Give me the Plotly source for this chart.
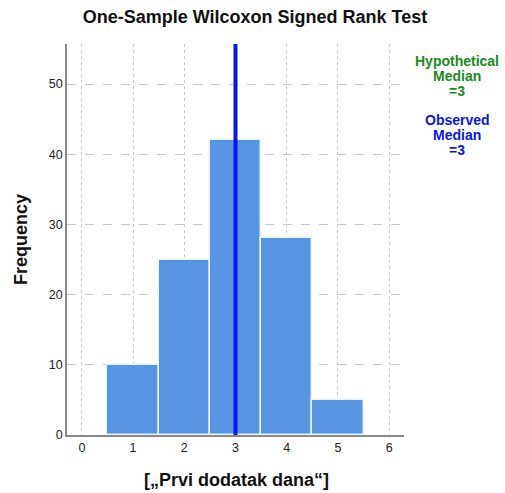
import plotly.graph_objects as go

categories = [1, 2, 3, 4, 5]
frequencies = [10, 25, 42, 28, 5]
hypothetical_median = 3
observed_median = 3
x_ticks = [0, 1, 2, 3, 4, 5, 6]
y_ticks = [0, 10, 20, 30, 40, 50]

W, H = 505, 493
L, R, T, B = 67, 101, 44, 58
PW, PH = W - L - R, H - T - B

def px_x(px):
    return (px - L) / PW

def px_y(py):
    return (H - B - py) / PH

fig = go.Figure()
fig.add_trace(go.Bar(
    x=categories, y=frequencies, width=1.0,
    marker=dict(color="#5795E3", line=dict(color="#EAF2FC", width=1.5)),
    showlegend=False, hoverinfo="x+y",
))
fig.add_trace(go.Scatter(
    x=[observed_median, observed_median], y=[0, 60], mode="lines",
    line=dict(color="#0A14F0", width=4), showlegend=False,
))

fig.update_layout(
    width=W, height=H,
    margin=dict(l=L, r=R, t=T, b=B, autoexpand=False),
    paper_bgcolor="white", plot_bgcolor="white",
    font=dict(family="Liberation Sans, Arial, sans-serif", color="#222"),
    title=dict(text="<b>One-Sample Wilcoxon Signed Rank Test</b>",
               x=255 / W, xref="container", y=1 - 17 / H, yref="container",
               xanchor="center", yanchor="middle",
               font=dict(size=18, color="#111")),
    bargap=0,
)
fig.update_xaxes(
    range=[-0.29, 6.29], tickvals=x_ticks, ticktext=[str(t) for t in x_ticks],
    showgrid=True, gridcolor="#C8C8C8", griddash="dot", gridwidth=1,
    showline=True, linecolor="#888", linewidth=1.5, zeroline=False,
    ticks="", tickfont=dict(size=12.5, color="#222"), automargin=False,
)
fig.update_yaxes(
    range=[0, 55.7], tickvals=y_ticks,
    showgrid=True, gridcolor="#C8C8C8", griddash="dash", gridwidth=1,
    showline=True, linecolor="#888", linewidth=1.5, zeroline=False,
    ticks="", tickfont=dict(size=12.5, color="#222"), automargin=False,
)

# axis titles
fig.add_annotation(text="<b>[„Prvi dodatak dana“]</b>", xref="paper", yref="paper",
                   x=px_x(236), y=px_y(480), xanchor="center", yanchor="middle",
                   showarrow=False, font=dict(size=18, color="#111"))
fig.add_annotation(text="<b>Frequency</b>", xref="paper", yref="paper",
                   x=px_x(21), y=px_y(240), xanchor="center", yanchor="middle",
                   textangle=-90, showarrow=False, font=dict(size=18, color="#111"))

# median labels, one line each
hyp_lines = ["Hypothetical", "Median", "=%d" % hypothetical_median]
obs_lines = ["Observed", "Median", "=%d" % observed_median]
for i, t in enumerate(hyp_lines):
    fig.add_annotation(text="<b>%s</b>" % t, xref="paper", yref="paper",
                       x=px_x(457), y=px_y(61 + 15 * i), xanchor="center", yanchor="middle",
                       showarrow=False, font=dict(size=14, color="#1A8C1A"))
for i, t in enumerate(obs_lines):
    fig.add_annotation(text="<b>%s</b>" % t, xref="paper", yref="paper",
                       x=px_x(457), y=px_y(120 + 15 * i), xanchor="center", yanchor="middle",
                       showarrow=False, font=dict(size=14, color="#0A14F0"))

fig.write_html("out.html", config={"displayModeBar": False},
               post_script="document.body.style.margin='0px';")
